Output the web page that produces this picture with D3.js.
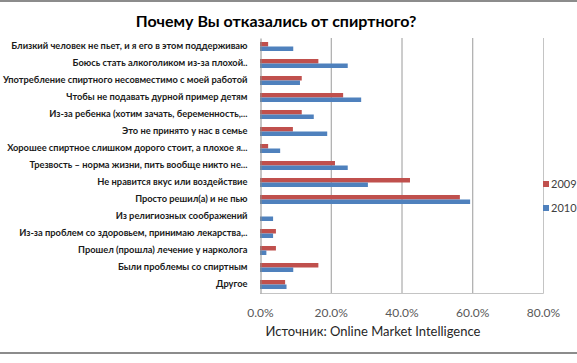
<!DOCTYPE html>
<html>
<head>
<meta charset="utf-8">
<script src="https://cdn.jsdelivr.net/npm/d3@7"></script>
<style>
  body { margin: 0; background: #fff; }
  svg { display: block; font-family: Lato, "Open Sans", sans-serif; }
</style>
</head>
<body>
<script>
var categories = [
  "Близкий человек не пьет, и я его в этом поддерживаю",
  "Боюсь стать алкоголиком из-за плохой..",
  "Употребление спиртного несовместимо с моей работой",
  "Чтобы не подавать дурной пример детям",
  "Из-за ребенка (хотим зачать, беременность,...",
  "Это не принято у нас в семье",
  "Хорошее спиртное слишком дорого стоит, а плохое я...",
  "Трезвость – норма жизни, пить вообще никто не...",
  "Не нравится вкус или воздействие",
  "Просто решил(а) и не пью",
  "Из религиозных соображений",
  "Из-за проблем со здоровьем, принимаю лекарства,..",
  "Прошел (прошла) лечение у нарколога",
  "Были проблемы со спиртным",
  "Другое"
];
var series = ["2009", "2010"];
var values2009 = [0.023, 0.165, 0.118, 0.235, 0.118, 0.093, 0.023, 0.212, 0.424, 0.565, 0, 0.045, 0.045, 0.165, 0.071];
var values2010 = [0.094, 0.248, 0.113, 0.286, 0.152, 0.190, 0.057, 0.248, 0.305, 0.594, 0.037, 0.037, 0.018, 0.094, 0.075];
var ticks = [0, 0.2, 0.4, 0.6, 0.8];
var colors = {"2009": "#c0504d", "2010": "#4f81bd"};

var W = 577, H = 363;
var margin = {top: 38, left: 260, right: 34, bottom: 70};

var svg = d3.select("body").append("svg")
    .attr("width", W)
    .attr("height", H);

// outer frame lines
svg.append("line").attr("x1", 0).attr("x2", W).attr("y1", 1).attr("y2", 1)
    .attr("stroke", "#8c8c8c").attr("stroke-width", 2);
svg.append("line").attr("x1", 0).attr("x2", W).attr("y1", 353).attr("y2", 353)
    .attr("stroke", "#8c8c8c").attr("stroke-width", 2);

svg.append("text")
    .attr("x", 276).attr("y", 27)
    .attr("text-anchor", "middle")
    .attr("font-size", 16).attr("font-weight", "bold")
    .attr("fill", "#000")
    .text("Почему Вы отказались от спиртного?");

var x = d3.scaleLinear().domain([0, 0.8]).range([margin.left, W - margin.right]);
var y = d3.scaleBand().domain(categories).range([margin.top, H - margin.bottom]).paddingInner(0.47).paddingOuter(0.235);
var ySub = d3.scaleBand().domain(series).range([0, y.bandwidth()]);

// gridlines
svg.append("g").selectAll("line")
    .data(ticks.slice(1, 4))
    .enter().append("line")
    .attr("x1", function(d) { return x(d) + 0.5; })
    .attr("x2", function(d) { return x(d) + 0.5; })
    .attr("y1", margin.top)
    .attr("y2", H - margin.bottom)
    .attr("stroke", "#9a9a9a");

// plot frame (right)
svg.append("line")
    .attr("x1", x(0.8) + 0.5).attr("x2", x(0.8) + 0.5)
    .attr("y1", margin.top).attr("y2", H - margin.bottom + 0.5)
    .attr("stroke", "#c4c4c4");

var rows = svg.append("g").selectAll("g")
    .data(categories)
    .enter().append("g")
    .attr("transform", function(d) { return "translate(0," + y(d) + ")"; });

rows.selectAll("rect")
    .data(function(d, i) {
        return [{s: "2009", v: values2009[i]}, {s: "2010", v: values2010[i]}];
    })
    .enter().append("rect")
    .attr("x", x(0))
    .attr("y", function(d) { return ySub(d.s); })
    .attr("width", function(d) { return x(d.v) - x(0); })
    .attr("height", ySub.bandwidth())
    .attr("fill", function(d) { return colors[d.s]; });

// x axis
var xAxis = svg.append("g")
    .attr("transform", "translate(0," + (H - margin.bottom) + ")")
    .call(d3.axisBottom(x).tickValues(ticks).tickFormat(d3.format(".1%")).tickSize(0).tickPadding(15));
xAxis.select(".domain").attr("stroke", "#c4c4c4").attr("d", "M" + x(0) + ",0.5H" + (x(0.8) + 0.5));
xAxis.selectAll("text").attr("font-size", 12).attr("fill", "#595959")
    .attr("font-family", "Lato, 'Open Sans', sans-serif");

// y axis
var yAxis = svg.append("g")
    .attr("transform", "translate(" + (margin.left + 0.5) + ",0)")
    .call(d3.axisLeft(y).tickSize(0).tickPadding(13));
yAxis.select(".domain").attr("stroke", "#8c8c8c");
yAxis.selectAll("text").attr("font-size", 9.3).attr("font-weight", "bold").attr("fill", "#1a1a1a")
    .attr("font-family", "Lato, 'Open Sans', sans-serif");

// legend
var legend = svg.append("g").selectAll("g")
    .data(series)
    .enter().append("g")
    .attr("transform", function(d, i) { return "translate(543," + (181 + i * 24) + ")"; });
legend.append("rect").attr("width", 6).attr("height", 6)
    .attr("fill", function(d) { return colors[d]; });
legend.append("text").attr("x", 8).attr("y", 3).attr("dy", "0.35em")
    .attr("font-size", 11).attr("fill", "#404040")
    .text(function(d) { return d; });

svg.append("text")
    .attr("x", 373).attr("y", 336)
    .attr("text-anchor", "middle")
    .attr("font-size", 13).attr("fill", "#262626")
    .text("Источник: Online Market Intelligence");
</script>
</body>
</html>
